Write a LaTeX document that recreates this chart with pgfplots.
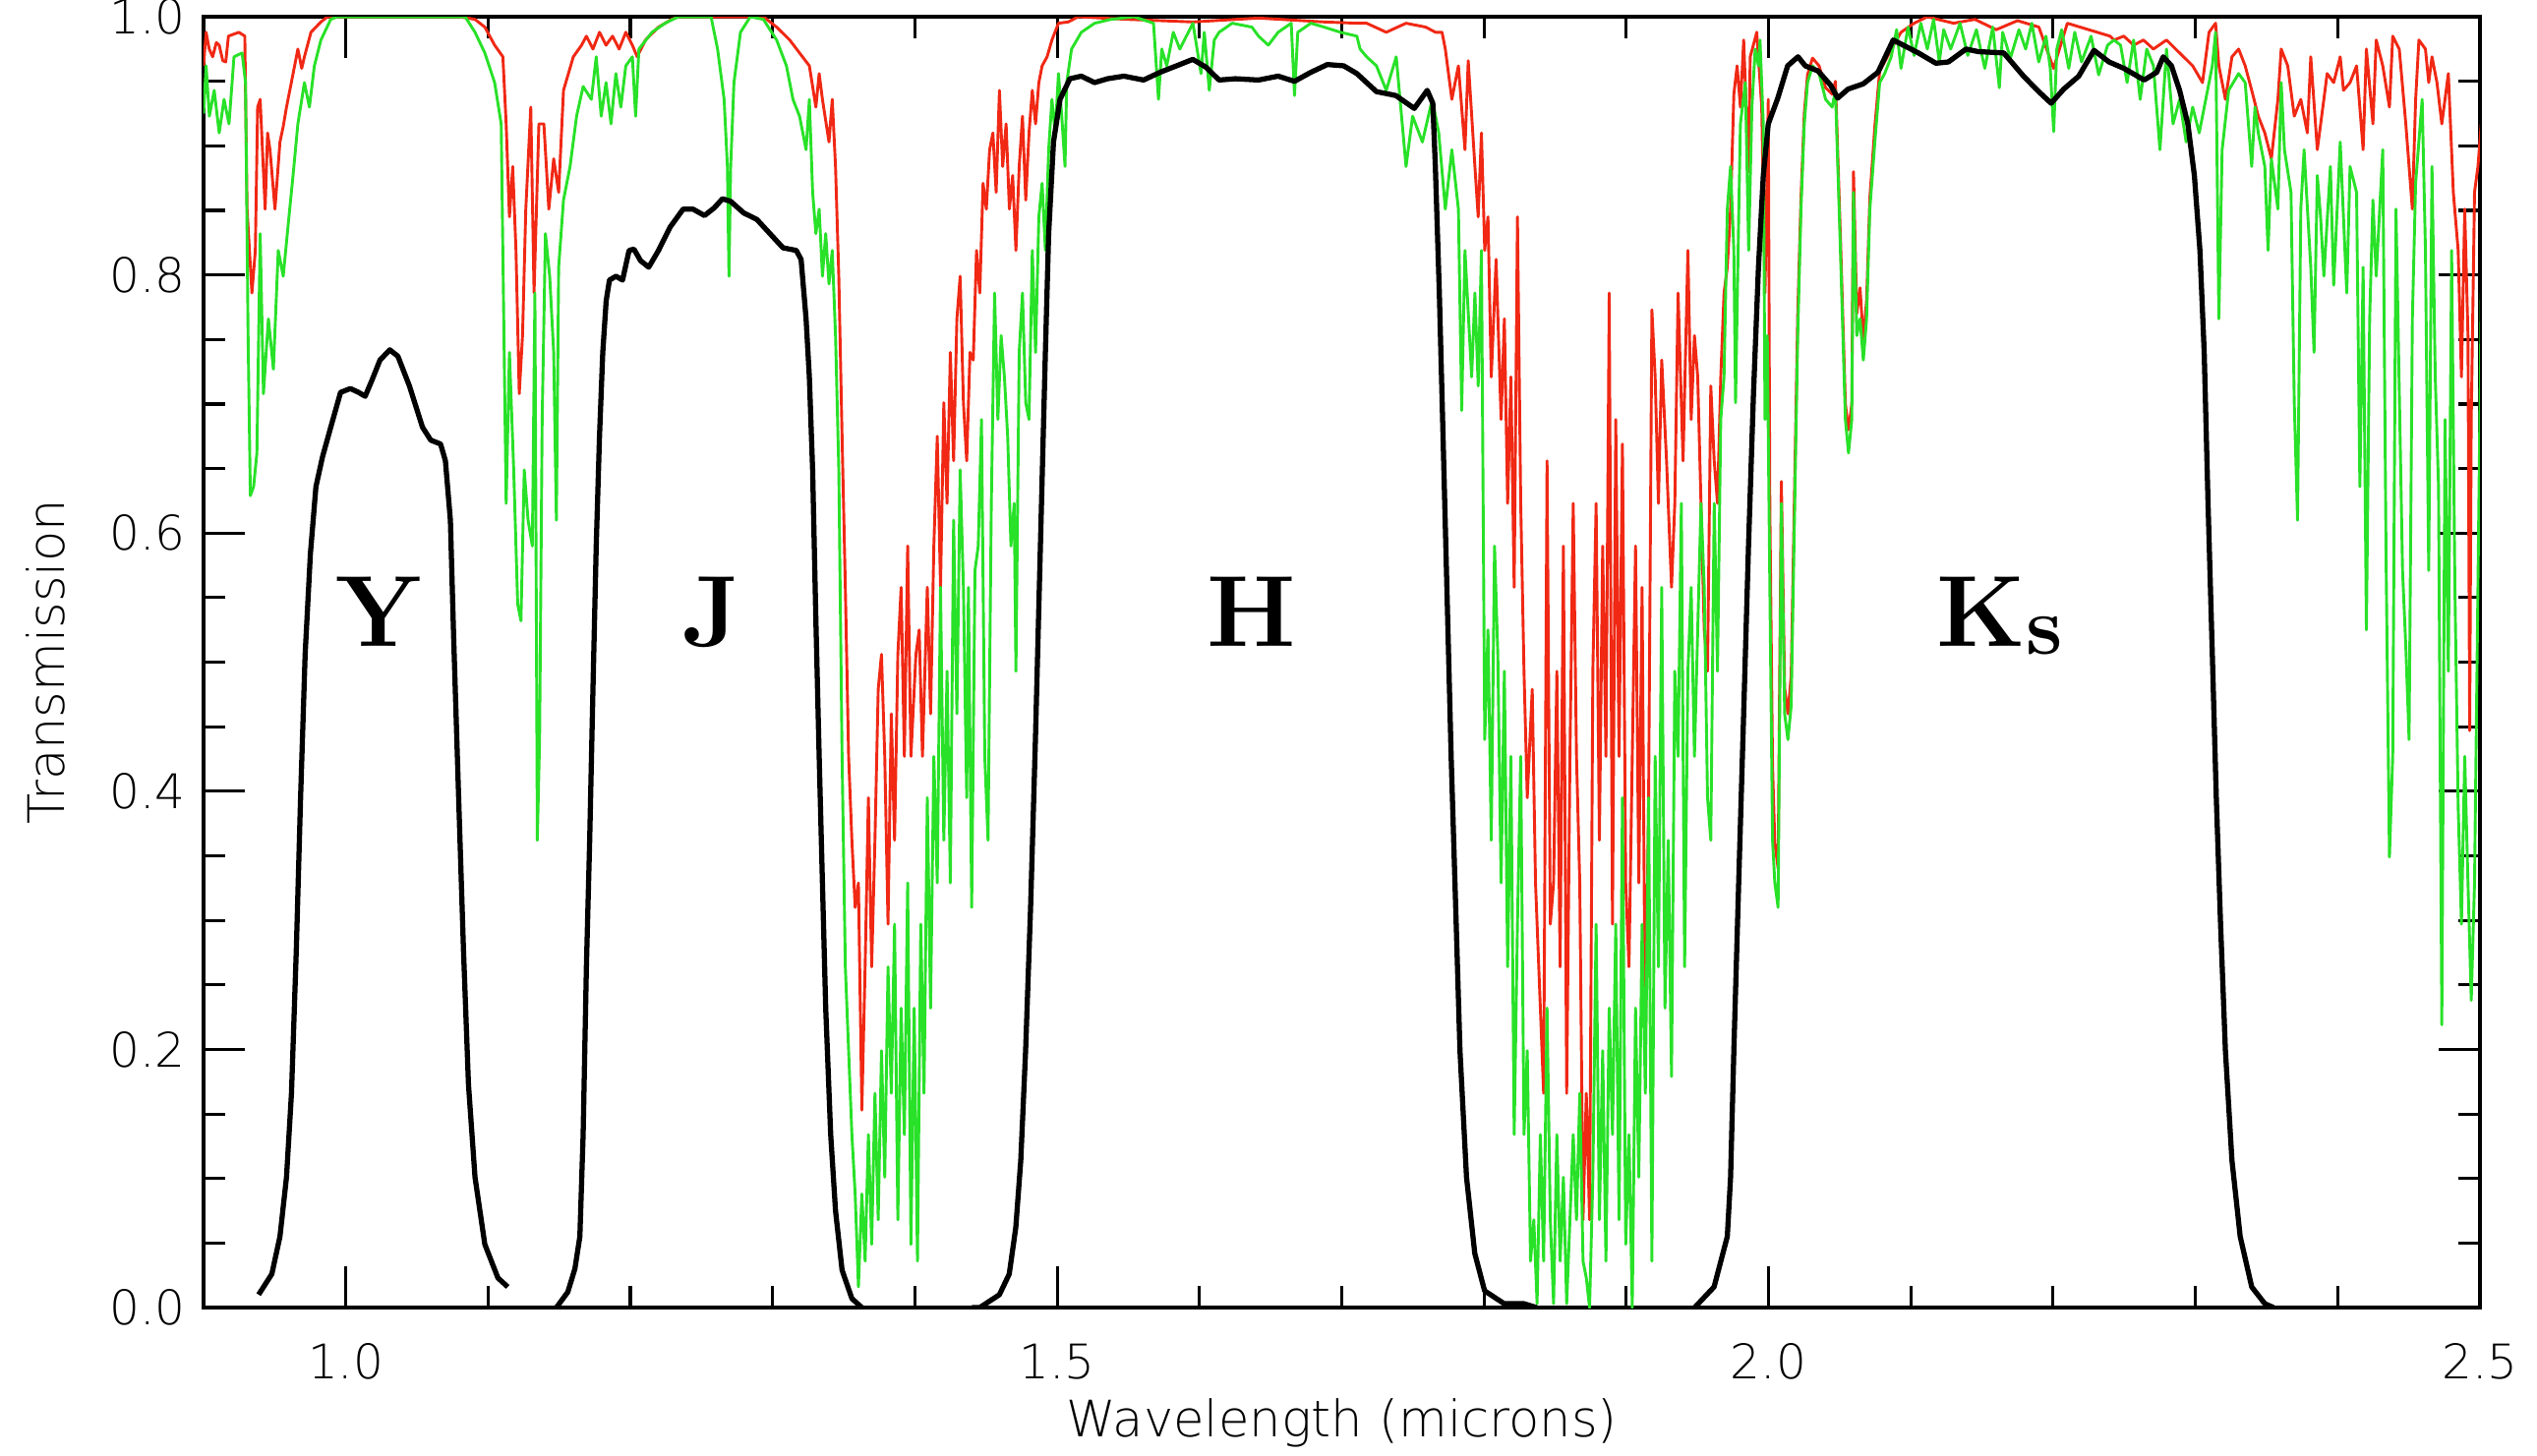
\documentclass[border=0pt]{standalone}
\usepackage{fontspec}
\setmainfont{DejaVuSans-ExtraLight}[Extension=.ttf]
\newfontfamily\bandfont{Latin Modern Roman}
\usepackage{pgfplots}
\pgfplotsset{compat=1.18}
\definecolor{atmred}{RGB}{240,40,20}
\definecolor{atmgreen}{RGB}{40,225,40}
\begin{document}
\begin{tikzpicture}
\useasboundingbox (-1.38,-1.0) rectangle (15.82,8.867);
\begin{axis}[
  at={(0,0)}, anchor=south west,
  scale only axis, width=15.433cm, height=8.753cm,
  xmin=0.9, xmax=2.5, ymin=0, ymax=1,
  xtick={1.0,1.5,2.0,2.5}, minor x tick num=4,
  ytick={0,0.2,0.4,0.6,0.8,1.0}, minor y tick num=3,
  tick align=inside,
  major tick length=0.28cm, minor tick length=0.147cm,
  axis line style={line width=0.6pt},
  tick style={black, line width=0.6pt},
  /pgf/number format/assume math mode=true,
  xticklabel style={font=\fontsize{9.2}{11}\selectfont, yshift=-0.12cm,
    /pgf/number format/fixed, /pgf/number format/fixed zerofill, /pgf/number format/precision=1},
  yticklabel style={font=\fontsize{9.2}{11}\selectfont,
    /pgf/number format/fixed, /pgf/number format/fixed zerofill, /pgf/number format/precision=1},
  every axis plot/.append style={line join=round},
]

% atmosphere, drier site
\addplot[atmred, line width=0.55pt] coordinates {
(0.9000,0.962) (0.9018,0.988) (0.9040,0.975) (0.9064,0.969) (0.9090,0.980) (0.9110,0.978) (0.9135,0.966) (0.9156,0.965)
(0.9175,0.985) (0.9248,0.988) (0.9290,0.985) (0.9306,0.851) (0.9340,0.786) (0.9364,0.819) (0.9380,0.930) (0.9398,0.936)
(0.9433,0.851) (0.9450,0.910) (0.9467,0.897) (0.9502,0.851) (0.9537,0.903) (0.9560,0.915) (0.9583,0.930) (0.9617,0.949)
(0.9663,0.975) (0.9690,0.960) (0.9709,0.969) (0.9755,0.988) (0.9825,0.996) (0.9871,1.000) (1.0800,1.000) (1.0908,0.998)
(1.0977,0.992) (1.1046,0.978) (1.1104,0.969) (1.1127,0.917) (1.1150,0.845) (1.1173,0.884) (1.1196,0.819) (1.1219,0.708)
(1.1242,0.753) (1.1265,0.851) (1.1300,0.930) (1.1323,0.786) (1.1357,0.917) (1.1392,0.917) (1.1427,0.851) (1.1461,0.890)
(1.1496,0.864) (1.1530,0.943) (1.1599,0.969) (1.1657,0.978) (1.1691,0.985) (1.1737,0.975) (1.1783,0.988) (1.1829,0.978)
(1.1875,0.985) (1.1921,0.975) (1.1968,0.988) (1.2014,0.978) (1.2048,0.969) (1.2106,0.982) (1.2198,0.992) (1.2290,0.998)
(1.2336,1.000) (1.2935,1.000) (1.3028,0.992) (1.3120,0.982) (1.3189,0.972) (1.3258,0.962) (1.3304,0.930) (1.3327,0.956)
(1.3350,0.936) (1.3396,0.903) (1.3419,0.936) (1.3442,0.884) (1.3465,0.799) (1.3488,0.675) (1.3511,0.558) (1.3534,0.427)
(1.3557,0.362) (1.3580,0.310) (1.3603,0.329) (1.3627,0.153) (1.3650,0.264) (1.3673,0.395) (1.3696,0.264) (1.3719,0.362)
(1.3742,0.479) (1.3765,0.506) (1.3788,0.427) (1.3811,0.297) (1.3834,0.460) (1.3857,0.362) (1.3880,0.506) (1.3903,0.558)
(1.3926,0.427) (1.3949,0.590) (1.3972,0.427) (1.4007,0.506) (1.4030,0.525) (1.4053,0.427) (1.4087,0.558) (1.4110,0.460)
(1.4133,0.590) (1.4157,0.675) (1.4180,0.558) (1.4203,0.701) (1.4226,0.623) (1.4249,0.740) (1.4272,0.656) (1.4295,0.766)
(1.4318,0.799) (1.4341,0.701) (1.4364,0.656) (1.4387,0.740) (1.4410,0.734) (1.4433,0.819) (1.4456,0.786) (1.4479,0.871)
(1.4502,0.851) (1.4525,0.897) (1.4548,0.910) (1.4571,0.864) (1.4594,0.943) (1.4617,0.884) (1.4641,0.917) (1.4664,0.851)
(1.4687,0.877) (1.4710,0.819) (1.4733,0.884) (1.4756,0.923) (1.4779,0.858) (1.4802,0.910) (1.4825,0.943) (1.4848,0.917)
(1.4871,0.949) (1.4894,0.962) (1.4929,0.969) (1.4963,0.982) (1.5009,0.995) (1.5078,0.996) (1.5147,1.000) (1.5493,0.998)
(1.5954,0.996) (1.6415,0.999) (1.6876,0.996) (1.7106,0.995) (1.7175,0.995) (1.7313,0.988) (1.7452,0.995) (1.7590,0.992)
(1.7659,0.988) (1.7705,0.988) (1.7728,0.975) (1.7774,0.936) (1.7820,0.962) (1.7866,0.897) (1.7889,0.966) (1.7936,0.884)
(1.7959,0.845) (1.7982,0.910) (1.8005,0.819) (1.8028,0.845) (1.8051,0.721) (1.8085,0.812) (1.8120,0.688) (1.8143,0.766)
(1.8166,0.623) (1.8189,0.721) (1.8212,0.558) (1.8235,0.845) (1.8258,0.623) (1.8281,0.493) (1.8304,0.395) (1.8339,0.479)
(1.8362,0.329) (1.8396,0.232) (1.8419,0.166) (1.8443,0.656) (1.8466,0.297) (1.8489,0.329) (1.8512,0.493) (1.8535,0.264)
(1.8558,0.590) (1.8581,0.166) (1.8604,0.427) (1.8627,0.623) (1.8650,0.427) (1.8673,0.329) (1.8696,0.068) (1.8719,0.166)
(1.8742,0.068) (1.8765,0.493) (1.8788,0.623) (1.8811,0.362) (1.8834,0.590) (1.8857,0.427) (1.8880,0.786) (1.8903,0.297)
(1.8926,0.688) (1.8949,0.427) (1.8973,0.669) (1.8996,0.329) (1.9019,0.264) (1.9042,0.427) (1.9065,0.590) (1.9088,0.329)
(1.9111,0.558) (1.9134,0.199) (1.9157,0.395) (1.9180,0.773) (1.9203,0.721) (1.9226,0.623) (1.9249,0.734) (1.9283,0.656)
(1.9318,0.558) (1.9341,0.623) (1.9364,0.786) (1.9399,0.656) (1.9433,0.819) (1.9456,0.688) (1.9479,0.753) (1.9502,0.721)
(1.9525,0.623) (1.9548,0.525) (1.9571,0.493) (1.9594,0.714) (1.9618,0.656) (1.9641,0.623) (1.9664,0.721) (1.9687,0.786)
(1.9710,0.806) (1.9733,0.851) (1.9756,0.940) (1.9779,0.962) (1.9802,0.930) (1.9825,0.982) (1.9860,0.880) (1.9871,0.969)
(1.9917,0.988) (1.9952,0.930) (1.9975,0.786) (1.9998,0.936) (2.0009,0.620) (2.0028,0.420) (2.0044,0.360) (2.0067,0.340)
(2.0079,0.500) (2.0090,0.640) (2.0113,0.480) (2.0136,0.460) (2.0159,0.490) (2.0182,0.630) (2.0205,0.770) (2.0228,0.860)
(2.0251,0.925) (2.0274,0.955) (2.0309,0.968) (2.0355,0.962) (2.0401,0.945) (2.0447,0.940) (2.0470,0.950) (2.0505,0.830)
(2.0540,0.700) (2.0562,0.680) (2.0585,0.700) (2.0597,0.880) (2.0620,0.770) (2.0643,0.790) (2.0666,0.750) (2.0689,0.780)
(2.0712,0.860) (2.0747,0.915) (2.0781,0.958) (2.0816,0.965) (2.0862,0.975) (2.0931,0.988) (2.1023,0.995) (2.1116,1.000)
(2.1300,0.995) (2.1450,0.998) (2.1600,0.990) (2.1750,0.997) (2.1900,0.992) (2.2003,0.960) (2.2100,0.995) (2.2250,0.990)
(2.2400,0.985) (2.2428,0.982) (2.2497,0.985) (2.2566,0.978) (2.2635,0.982) (2.2705,0.975) (2.2797,0.982) (2.2889,0.972)
(2.2981,0.962) (2.3050,0.949) (2.3096,0.988) (2.3142,0.995) (2.3165,0.962) (2.3211,0.936) (2.3257,0.969) (2.3304,0.975)
(2.3350,0.962) (2.3396,0.943) (2.3442,0.923) (2.3488,0.910) (2.3534,0.890) (2.3580,0.936) (2.3603,0.975) (2.3649,0.962)
(2.3695,0.923) (2.3741,0.936) (2.3787,0.910) (2.3811,0.969) (2.3857,0.897) (2.3903,0.936) (2.3926,0.956) (2.3972,0.949)
(2.4018,0.969) (2.4041,0.943) (2.4087,0.949) (2.4133,0.962) (2.4179,0.897) (2.4202,0.975) (2.4248,0.917) (2.4271,0.982)
(2.4317,0.962) (2.4364,0.930) (2.4387,0.985) (2.4433,0.975) (2.4479,0.917) (2.4502,0.884) (2.4525,0.851) (2.4548,0.936)
(2.4571,0.982) (2.4617,0.975) (2.4640,0.949) (2.4663,0.969) (2.4698,0.949) (2.4732,0.917) (2.4778,0.956) (2.4813,0.864)
(2.4847,0.819) (2.4870,0.721) (2.4893,0.851) (2.4916,0.753) (2.4928,0.447) (2.4939,0.688) (2.4962,0.864) (2.4986,0.884)
(2.5009,0.917)
};

% atmosphere, wetter site
\addplot[atmgreen, line width=0.55pt] coordinates {
(0.9000,0.925) (0.9018,0.962) (0.9041,0.923) (0.9075,0.943) (0.9110,0.910) (0.9144,0.936) (0.9179,0.917) (0.9214,0.969)
(0.9271,0.972) (0.9295,0.949) (0.9313,0.753) (0.9329,0.629) (0.9352,0.636) (0.9375,0.662) (0.9398,0.832) (0.9421,0.708)
(0.9456,0.766) (0.9491,0.727) (0.9525,0.819) (0.9560,0.799) (0.9594,0.838) (0.9629,0.877) (0.9663,0.917) (0.9709,0.949)
(0.9744,0.930) (0.9779,0.962) (0.9825,0.982) (0.9894,0.998) (0.9940,1.000) (1.0839,1.000) (1.0908,0.988) (1.0977,0.972)
(1.1046,0.949) (1.1092,0.917) (1.1127,0.623) (1.1150,0.740) (1.1180,0.649) (1.1208,0.545) (1.1231,0.532) (1.1254,0.649)
(1.1281,0.610) (1.1311,0.590) (1.1329,0.786) (1.1346,0.362) (1.1362,0.440) (1.1380,0.688) (1.1403,0.832) (1.1433,0.799)
(1.1461,0.740) (1.1480,0.610) (1.1496,0.806) (1.1530,0.858) (1.1576,0.884) (1.1622,0.923) (1.1668,0.946) (1.1726,0.936)
(1.1760,0.969) (1.1795,0.923) (1.1829,0.949) (1.1864,0.917) (1.1898,0.956) (1.1933,0.930) (1.1968,0.962) (1.2014,0.969)
(1.2037,0.923) (1.2060,0.975) (1.2152,0.988) (1.2244,0.995) (1.2336,1.000) (1.2567,1.000) (1.2613,0.975) (1.2659,0.936)
(1.2682,0.884) (1.2693,0.799) (1.2705,0.884) (1.2728,0.949) (1.2774,0.988) (1.2843,1.000) (1.2935,0.998) (1.3028,0.982)
(1.3097,0.962) (1.3143,0.936) (1.3189,0.923) (1.3235,0.897) (1.3258,0.936) (1.3281,0.864) (1.3304,0.832) (1.3327,0.851)
(1.3350,0.799) (1.3373,0.832) (1.3396,0.793) (1.3419,0.819) (1.3442,0.753) (1.3465,0.649) (1.3488,0.427) (1.3511,0.264)
(1.3534,0.199) (1.3557,0.134) (1.3580,0.088) (1.3603,0.016) (1.3627,0.088) (1.3650,0.036) (1.3673,0.134) (1.3696,0.049)
(1.3719,0.166) (1.3742,0.068) (1.3765,0.199) (1.3788,0.101) (1.3811,0.264) (1.3834,0.166) (1.3857,0.297) (1.3880,0.068)
(1.3903,0.232) (1.3926,0.134) (1.3949,0.329) (1.3972,0.049) (1.3995,0.232) (1.4018,0.036) (1.4041,0.297) (1.4064,0.166)
(1.4087,0.395) (1.4110,0.232) (1.4133,0.427) (1.4157,0.329) (1.4180,0.558) (1.4203,0.362) (1.4226,0.493) (1.4249,0.329)
(1.4272,0.610) (1.4295,0.460) (1.4318,0.649) (1.4341,0.558) (1.4364,0.395) (1.4376,0.558) (1.4399,0.310) (1.4422,0.571)
(1.4445,0.590) (1.4468,0.688) (1.4491,0.427) (1.4514,0.362) (1.4537,0.623) (1.4560,0.786) (1.4583,0.688) (1.4606,0.753)
(1.4629,0.721) (1.4652,0.675) (1.4675,0.590) (1.4698,0.623) (1.4710,0.493) (1.4733,0.740) (1.4756,0.786) (1.4779,0.701)
(1.4802,0.688) (1.4825,0.819) (1.4848,0.740) (1.4871,0.845) (1.4894,0.871) (1.4917,0.819) (1.4940,0.897) (1.4963,0.936)
(1.4986,0.910) (1.5009,0.956) (1.5032,0.923) (1.5055,0.884) (1.5067,0.949) (1.5101,0.975) (1.5170,0.988) (1.5263,0.995)
(1.5378,0.998) (1.5539,1.000) (1.5677,0.995) (1.5712,0.936) (1.5735,0.975) (1.5770,0.962) (1.5816,0.988) (1.5862,0.975)
(1.5954,0.995) (1.6011,0.956) (1.6034,0.988) (1.6069,0.943) (1.6104,0.982) (1.6138,0.988) (1.6230,0.995) (1.6369,0.992)
(1.6415,0.985) (1.6484,0.978) (1.6553,0.988) (1.6645,0.995) (1.6668,0.939) (1.6691,0.988) (1.6783,0.995) (1.6876,0.992)
(1.6991,0.988) (1.7106,0.985) (1.7129,0.975) (1.7175,0.969) (1.7244,0.962) (1.7313,0.943) (1.7383,0.969) (1.7452,0.884)
(1.7498,0.923) (1.7567,0.903) (1.7636,0.936) (1.7682,0.910) (1.7728,0.851) (1.7774,0.897) (1.7820,0.851) (1.7843,0.695)
(1.7866,0.819) (1.7913,0.721) (1.7936,0.786) (1.7959,0.714) (1.7982,0.819) (1.8005,0.440) (1.8028,0.525) (1.8051,0.362)
(1.8074,0.590) (1.8097,0.506) (1.8120,0.329) (1.8143,0.493) (1.8166,0.264) (1.8189,0.427) (1.8212,0.134) (1.8235,0.297)
(1.8258,0.427) (1.8281,0.134) (1.8304,0.199) (1.8327,0.036) (1.8350,0.068) (1.8373,0.003) (1.8396,0.134) (1.8419,0.036)
(1.8443,0.232) (1.8466,0.068) (1.8489,0.003) (1.8512,0.134) (1.8535,0.036) (1.8558,0.101) (1.8581,0.003) (1.8604,0.068)
(1.8627,0.134) (1.8650,0.068) (1.8673,0.166) (1.8696,0.036) (1.8719,0.023) (1.8742,0.000) (1.8765,0.101) (1.8788,0.297)
(1.8811,0.068) (1.8834,0.199) (1.8857,0.036) (1.8880,0.232) (1.8903,0.134) (1.8926,0.297) (1.8949,0.068) (1.8973,0.395)
(1.8996,0.049) (1.9019,0.134) (1.9042,0.000) (1.9065,0.232) (1.9088,0.101) (1.9111,0.297) (1.9134,0.166) (1.9157,0.395)
(1.9180,0.036) (1.9203,0.427) (1.9226,0.264) (1.9249,0.558) (1.9272,0.232) (1.9295,0.362) (1.9318,0.179) (1.9341,0.493)
(1.9364,0.427) (1.9387,0.623) (1.9410,0.264) (1.9433,0.493) (1.9456,0.558) (1.9479,0.427) (1.9502,0.525) (1.9525,0.623)
(1.9548,0.558) (1.9571,0.395) (1.9594,0.362) (1.9618,0.623) (1.9641,0.493) (1.9664,0.688) (1.9687,0.721) (1.9710,0.851)
(1.9733,0.884) (1.9756,0.819) (1.9768,0.701) (1.9791,0.851) (1.9802,0.917) (1.9837,0.949) (1.9860,0.819) (1.9883,0.930)
(1.9906,0.975) (1.9929,0.962) (1.9940,0.982) (1.9963,0.917) (1.9975,0.688) (1.9991,0.753) (2.0009,0.558) (2.0028,0.362)
(2.0044,0.329) (2.0067,0.310) (2.0079,0.473) (2.0090,0.623) (2.0113,0.460) (2.0136,0.440) (2.0159,0.466) (2.0182,0.610)
(2.0205,0.753) (2.0228,0.851) (2.0251,0.917) (2.0274,0.949) (2.0309,0.962) (2.0355,0.956) (2.0401,0.936) (2.0447,0.930)
(2.0470,0.943) (2.0505,0.819) (2.0540,0.688) (2.0562,0.662) (2.0585,0.688) (2.0597,0.864) (2.0620,0.753) (2.0643,0.766)
(2.0666,0.734) (2.0689,0.766) (2.0712,0.851) (2.0747,0.903) (2.0781,0.949) (2.0816,0.956) (2.0862,0.969) (2.0900,0.990)
(2.0931,0.960) (2.0980,0.992) (2.1023,0.970) (2.1070,0.995) (2.1116,0.975) (2.1160,0.998) (2.1200,0.965) (2.1231,0.990)
(2.1280,0.975) (2.1346,0.995) (2.1400,0.970) (2.1461,0.990) (2.1520,0.960) (2.1576,0.992) (2.1622,0.945) (2.1645,0.988)
(2.1700,0.968) (2.1760,0.990) (2.1807,0.975) (2.1850,0.995) (2.1899,0.965) (2.1950,0.985) (2.1980,0.960) (2.2004,0.911)
(2.2026,0.975) (2.2060,0.990) (2.2110,0.960) (2.2152,0.988) (2.2200,0.965) (2.2267,0.985) (2.2320,0.955) (2.2383,0.978)
(2.2428,0.982) (2.2474,0.978) (2.2520,0.949) (2.2566,0.982) (2.2612,0.936) (2.2658,0.975) (2.2705,0.962) (2.2751,0.897)
(2.2797,0.975) (2.2843,0.917) (2.2889,0.936) (2.2935,0.903) (2.2981,0.930) (2.3027,0.910) (2.3073,0.936) (2.3119,0.962)
(2.3142,0.988) (2.3165,0.766) (2.3188,0.897) (2.3234,0.943) (2.3304,0.956) (2.3350,0.949) (2.3396,0.884) (2.3419,0.930)
(2.3442,0.910) (2.3488,0.884) (2.3511,0.819) (2.3534,0.890) (2.3580,0.851) (2.3603,0.949) (2.3626,0.897) (2.3672,0.864)
(2.3695,0.701) (2.3718,0.610) (2.3741,0.851) (2.3764,0.897) (2.3811,0.806) (2.3834,0.740) (2.3857,0.877) (2.3880,0.845)
(2.3903,0.799) (2.3949,0.884) (2.3972,0.792) (2.4018,0.903) (2.4064,0.786) (2.4087,0.884) (2.4133,0.864) (2.4156,0.636)
(2.4179,0.806) (2.4202,0.525) (2.4225,0.766) (2.4248,0.858) (2.4271,0.799) (2.4317,0.897) (2.4340,0.584) (2.4364,0.349)
(2.4387,0.427) (2.4410,0.851) (2.4456,0.571) (2.4479,0.512) (2.4502,0.440) (2.4525,0.766) (2.4548,0.871) (2.4594,0.936)
(2.4617,0.819) (2.4640,0.571) (2.4663,0.884) (2.4686,0.721) (2.4709,0.636) (2.4732,0.219) (2.4755,0.688) (2.4778,0.493)
(2.4801,0.819) (2.4824,0.558) (2.4847,0.388) (2.4870,0.297) (2.4893,0.427) (2.4916,0.329) (2.4939,0.238) (2.4962,0.329)
(2.4986,0.558) (2.5009,0.786)
};

% filter curves
\addplot[black, line width=1.0pt] coordinates {
(0.9387,0.010) (0.9480,0.026) (0.9537,0.055) (0.9583,0.101) (0.9618,0.166) (0.9652,0.277) (0.9682,0.395) (0.9714,0.506)
(0.9751,0.584) (0.9790,0.636) (0.9836,0.659) (0.9894,0.682) (0.9963,0.709) (1.0032,0.712) (1.0090,0.709) (1.0136,0.706)
(1.0182,0.718) (1.0240,0.734) (1.0309,0.742) (1.0366,0.737) (1.0447,0.714) (1.0539,0.682) (1.0597,0.672) (1.0666,0.669)
(1.0700,0.656) (1.0735,0.610) (1.0758,0.519) (1.0793,0.395) (1.0827,0.277) (1.0862,0.173) (1.0908,0.101) (1.0977,0.049)
(1.1069,0.023) (1.1138,0.016)
};
\addplot[black, line width=1.0pt] coordinates {
(1.1480,0.000) (1.1560,0.012) (1.1610,0.030) (1.1645,0.055) (1.1668,0.134) (1.1691,0.264) (1.1714,0.362) (1.1737,0.479)
(1.1760,0.590) (1.1783,0.675) (1.1806,0.740) (1.1830,0.780) (1.1853,0.796) (1.1899,0.799) (1.1945,0.796) (1.1991,0.819)
(1.2025,0.820) (1.2072,0.811) (1.2129,0.806) (1.2198,0.819) (1.2279,0.837) (1.2371,0.851) (1.2440,0.851) (1.2521,0.846)
(1.2590,0.852) (1.2647,0.859) (1.2705,0.857) (1.2797,0.848) (1.2889,0.843) (1.2981,0.832) (1.3073,0.821) (1.3166,0.819)
(1.3200,0.812) (1.3235,0.766) (1.3258,0.721) (1.3281,0.649) (1.3304,0.532) (1.3327,0.427) (1.3350,0.329) (1.3373,0.232)
(1.3408,0.134) (1.3442,0.075) (1.3488,0.029) (1.3557,0.007) (1.3627,0.000)
};
\addplot[black, line width=1.0pt] coordinates {
(1.4400,0.000) (1.4456,0.000) (1.4594,0.010) (1.4663,0.026) (1.4709,0.062) (1.4744,0.114) (1.4778,0.199) (1.4813,0.310)
(1.4847,0.440) (1.4882,0.590) (1.4917,0.740) (1.4940,0.832) (1.4974,0.903) (1.5020,0.936) (1.5089,0.952) (1.5170,0.954)
(1.5262,0.949) (1.5354,0.952) (1.5469,0.954) (1.5607,0.951) (1.5723,0.957) (1.5839,0.962) (1.5953,0.967) (1.6045,0.961)
(1.6138,0.951) (1.6253,0.952) (1.6415,0.951) (1.6553,0.954) (1.6668,0.950) (1.6783,0.957) (1.6899,0.963) (1.7014,0.962)
(1.7106,0.956) (1.7244,0.942) (1.7380,0.939) (1.7510,0.929) (1.7601,0.943) (1.7640,0.933) (1.7658,0.884) (1.7686,0.786)
(1.7709,0.688) (1.7739,0.558) (1.7769,0.427) (1.7801,0.310) (1.7831,0.199) (1.7877,0.101) (1.7935,0.042) (1.8004,0.013)
(1.8142,0.003) (1.8280,0.003) (1.8370,0.000)
};
\addplot[black, line width=1.0pt] coordinates {
(1.9480,0.000) (1.9617,0.016) (1.9710,0.055) (1.9733,0.101) (1.9756,0.199) (1.9790,0.329) (1.9825,0.460) (1.9859,0.590)
(1.9894,0.708) (1.9929,0.806) (1.9963,0.877) (1.9998,0.917) (2.0065,0.937) (2.0134,0.962) (2.0207,0.969) (2.0258,0.962)
(2.0348,0.958) (2.0436,0.947) (2.0486,0.937) (2.0559,0.944) (2.0665,0.948) (2.0769,0.957) (2.0876,0.982) (2.0982,0.976)
(2.1053,0.972) (2.1176,0.964) (2.1264,0.965) (2.1388,0.975) (2.1474,0.973) (2.1653,0.972) (2.1792,0.954) (2.1899,0.942)
(2.1986,0.933) (2.2075,0.944) (2.2180,0.954) (2.2287,0.974) (2.2393,0.965) (2.2498,0.960) (2.2640,0.951) (2.2728,0.957)
(2.2774,0.969) (2.2832,0.962) (2.2889,0.943) (2.2947,0.917) (2.2993,0.877) (2.3032,0.819) (2.3062,0.740) (2.3089,0.623)
(2.3119,0.506) (2.3147,0.395) (2.3177,0.297) (2.3211,0.199) (2.3257,0.114) (2.3315,0.055) (2.3396,0.016) (2.3488,0.003)
(2.3550,0.000)
};

\node[anchor=base, font=\bandfont\bfseries\fontsize{19.5}{22}\selectfont] at (axis cs:1.0232,0.5126) {Y};
\node[anchor=base, font=\bandfont\bfseries\fontsize{19.5}{22}\selectfont] at (axis cs:1.2566,0.5126) {J};
\node[anchor=base, font=\bandfont\bfseries\fontsize{19.5}{22}\selectfont] at (axis cs:1.6366,0.5126) {H};
\node[anchor=base, font=\bandfont\bfseries\fontsize{19.5}{22}\selectfont] at (axis cs:2.1627,0.5126)
  {K\raisebox{-0.057cm}{\fontsize{16}{16}\selectfont s}};
\end{axis}
\node[font=\fontsize{9.7}{12}\selectfont] at (7.717,-0.78) {Wavelength (microns)};
\node[rotate=90, font=\fontsize{9.7}{12}\selectfont] at (-1.073,4.377) {Transmission};
\end{tikzpicture}
\end{document}
